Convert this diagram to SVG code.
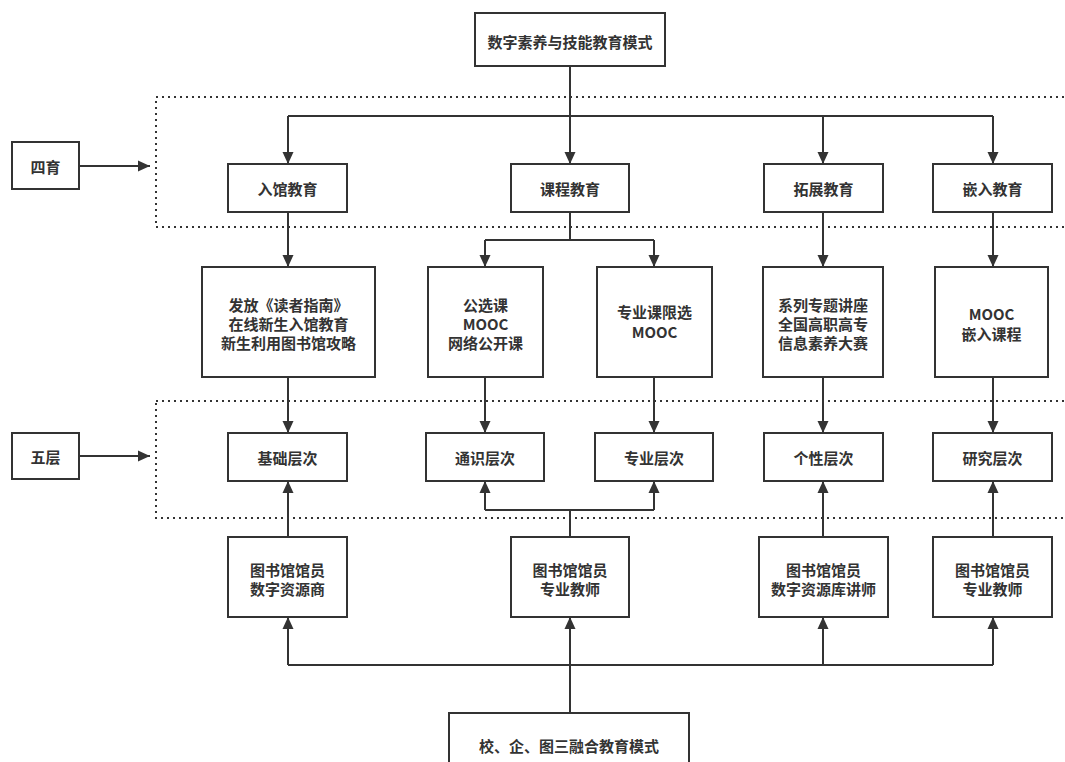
<svg xmlns="http://www.w3.org/2000/svg" width="1065" height="762" viewBox="0 0 1065 762">
<style>
.box{fill:#fff;stroke:#333;stroke-width:2}
.t{font-family:"Noto Sans CJK SC","Noto Sans",sans-serif;font-size:15px;font-weight:bold;fill:#333;text-anchor:middle;dominant-baseline:central}
.c{fill:none;stroke:#333;stroke-width:2}
.a{marker-end:url(#ah)}
.dot{fill:none;stroke:#333;stroke-width:2;stroke-dasharray:2 4}
</style>
<defs>
<marker id="ah" markerUnits="userSpaceOnUse" markerWidth="12" markerHeight="14" viewBox="0 0 12 14" refX="12" refY="7" orient="auto">
<path d="M0,1.5 L12,7 L0,12.5 Z" fill="#333"/>
</marker>
</defs>
<rect width="1065" height="762" fill="#fff"/>
<g id="groups">
<rect class="dot" x="156" y="97" width="920" height="130"/>
<rect class="dot" x="156" y="401" width="920" height="117"/>
</g>
<g id="connectors">
<path class="c a" d="M79,166 H150"/>
<path class="c a" d="M79,456 H150"/>
<path class="c" d="M570,66 V116 M288,116 H993"/>
<path class="c a" d="M288,116 V164"/>
<path class="c a" d="M570,116 V164"/>
<path class="c a" d="M823,116 V164"/>
<path class="c a" d="M993,116 V164"/>
<path class="c a" d="M288,212 V267"/>
<path class="c" d="M570,212 V240 M485,240 H654"/>
<path class="c a" d="M485,240 V267"/>
<path class="c a" d="M654,240 V267"/>
<path class="c a" d="M823,212 V267"/>
<path class="c a" d="M993,212 V267"/>
<path class="c a" d="M288,377 V433"/>
<path class="c a" d="M485,377 V433"/>
<path class="c a" d="M654,377 V433"/>
<path class="c a" d="M823,377 V433"/>
<path class="c a" d="M993,377 V433"/>
<path class="c a" d="M288,537 V481"/>
<path class="c" d="M570,537 V510 M485,510 H654"/>
<path class="c a" d="M485,510 V481"/>
<path class="c a" d="M654,510 V481"/>
<path class="c a" d="M823,537 V481"/>
<path class="c a" d="M993,537 V481"/>
<path class="c a" d="M570,713 V617"/>
<path class="c" d="M288,665 H993"/>
<path class="c a" d="M288,665 V617"/>
<path class="c a" d="M823,665 V617"/>
<path class="c a" d="M993,665 V617"/>
</g>
<g id="n-top"><rect class="box" x="475" y="13" width="190" height="53"/><text class="t" x="570" y="41">数字素养与技能教育模式</text></g>
<g id="n-siyu"><rect class="box" x="12" y="142" width="67" height="47"/><text class="t" x="45.5" y="166">四育</text></g>
<g id="n-wuceng"><rect class="box" x="12" y="433" width="67" height="46"/><text class="t" x="45.5" y="456">五层</text></g>
<g id="n-rg"><rect class="box" x="228" y="164" width="119" height="48"/><text class="t" x="287.5" y="188">入馆教育</text></g>
<g id="n-kc"><rect class="box" x="511" y="164" width="118" height="48"/><text class="t" x="570" y="188">课程教育</text></g>
<g id="n-tz"><rect class="box" x="764" y="164" width="119" height="48"/><text class="t" x="823.5" y="188">拓展教育</text></g>
<g id="n-qr"><rect class="box" x="933" y="164" width="119" height="48"/><text class="t" x="992.5" y="188">嵌入教育</text></g>
<g id="n-ff"><rect class="box" x="202" y="267" width="173" height="110"/><text class="t" x="288.5" y="304">发放《读者指南》</text><text class="t" x="288.5" y="323">在线新生入馆教育</text><text class="t" x="288.5" y="342">新生利用图书馆攻略</text></g>
<g id="n-gx"><rect class="box" x="428" y="267" width="115" height="110"/><text class="t" x="485.5" y="304">公选课</text><text class="t" x="485.5" y="323">MOOC</text><text class="t" x="485.5" y="342">网络公开课</text></g>
<g id="n-zy"><rect class="box" x="597" y="267" width="115" height="110"/><text class="t" x="654.5" y="311">专业课限选</text><text class="t" x="654.5" y="331">MOOC</text></g>
<g id="n-xl"><rect class="box" x="763" y="267" width="120" height="110"/><text class="t" x="823" y="304">系列专题讲座</text><text class="t" x="823" y="323">全国高职高专</text><text class="t" x="823" y="342">信息素养大赛</text></g>
<g id="n-mooc"><rect class="box" x="935" y="267" width="113" height="110"/><text class="t" x="991.5" y="313">MOOC</text><text class="t" x="991.5" y="333">嵌入课程</text></g>
<g id="n-jc"><rect class="box" x="228" y="433" width="119" height="48"/><text class="t" x="287.5" y="457">基础层次</text></g>
<g id="n-ts"><rect class="box" x="426" y="433" width="118" height="48"/><text class="t" x="485" y="457">通识层次</text></g>
<g id="n-zycc"><rect class="box" x="595" y="433" width="118" height="48"/><text class="t" x="654" y="457">专业层次</text></g>
<g id="n-gxcc"><rect class="box" x="764" y="433" width="119" height="48"/><text class="t" x="823.5" y="457">个性层次</text></g>
<g id="n-yj"><rect class="box" x="933" y="433" width="119" height="48"/><text class="t" x="992.5" y="457">研究层次</text></g>
<g id="n-b1"><rect class="box" x="228" y="537" width="119" height="80"/><text class="t" x="287.5" y="569">图书馆馆员</text><text class="t" x="287.5" y="588">数字资源商</text></g>
<g id="n-b2"><rect class="box" x="511" y="537" width="118" height="80"/><text class="t" x="570" y="569">图书馆馆员</text><text class="t" x="570" y="588">专业教师</text></g>
<g id="n-b3"><rect class="box" x="759" y="537" width="129" height="80"/><text class="t" x="823.5" y="569">图书馆馆员</text><text class="t" x="823.5" y="588">数字资源库讲师</text></g>
<g id="n-b4"><rect class="box" x="933" y="537" width="119" height="80"/><text class="t" x="992.5" y="569">图书馆馆员</text><text class="t" x="992.5" y="588">专业教师</text></g>
<g id="n-bottom"><rect class="box" x="449" y="713" width="240" height="70"/><text class="t" x="569" y="745">校、企、图三融合教育模式</text></g>
</svg>
